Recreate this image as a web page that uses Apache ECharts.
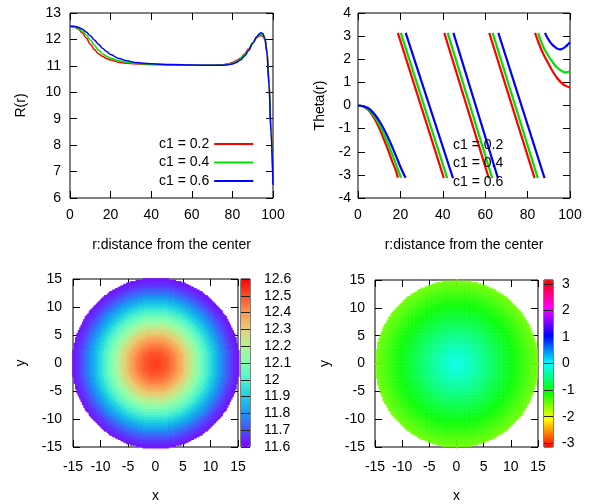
<!DOCTYPE html>
<html><head><meta charset="utf-8">
<script src="https://cdn.jsdelivr.net/npm/echarts@6/dist/echarts.min.js"></script>
<style>html,body{margin:0;padding:0;background:#fff}#c{width:596px;height:504px}</style>
</head><body><div id="c"></div>
<script>
// ---------- data ----------
const seriesNames = ['c1 = 0.2', 'c1 = 0.4', 'c1 = 0.6'];
const seriesColors = ['#ff0000', '#00e000', '#0000ff'];

// R(r) curves
const rNodes = [0,2,4,6,8,10,12,14,16,18,20,24,28,32,36,40,50,60,70,75,78,80,82,84,86,88,90,92,93,94,95,96,97,98,99,100];
const R_c02 = [12.5,12.48,12.4,12.25,12.05,11.82,11.62,11.46,11.36,11.28,11.22,11.14,11.1,11.08,11.06,11.05,11.03,11.02,11.02,11.04,11.08,11.13,11.2,11.3,11.45,11.65,11.87,12.05,12.12,12.15,12.12,12.0,11.6,10.5,8.7,6.7];
const R_c04 = [12.5,12.49,12.43,12.32,12.17,11.98,11.78,11.6,11.46,11.36,11.29,11.19,11.13,11.1,11.08,11.06,11.04,11.02,11.02,11.03,11.06,11.1,11.17,11.27,11.42,11.62,11.87,12.08,12.16,12.2,12.17,12.02,11.55,10.4,8.6,6.6];
const R_c06 = [12.5,12.5,12.46,12.39,12.28,12.14,11.98,11.82,11.67,11.54,11.43,11.28,11.19,11.13,11.1,11.08,11.05,11.03,11.02,11.02,11.04,11.07,11.13,11.22,11.37,11.58,11.85,12.1,12.2,12.25,12.22,12.05,11.5,10.3,8.5,6.5];

// Theta(r) curves: [r, theta] points, '-' breaks the phase-wrapped branches
const theta_c02 = [[0,0],[2,-0.03],[4,-0.13],[6,-0.32],[8,-0.6],[10,-0.98],[12,-1.42],[14,-1.88],[16,-2.38],[18,-2.85],[18.8,-3.12],[18.8,'-'],
  [18.8,3.14],[40.5,-3.14],[40.5,'-'],
  [40.7,3.14],[61.7,-3.14],[61.7,'-'],
  [61.9,3.14],[83.3,-3.14],[83.3,'-'],
  [83.5,3.14],[86,2.52],[88,2.12],[90,1.78],[92,1.45],[94,1.18],[96,0.98],[98,0.85],[100,0.78]];
const theta_c04 = [[0,0],[2,-0.02],[4,-0.1],[6,-0.26],[8,-0.5],[10,-0.82],[12,-1.2],[14,-1.62],[16,-2.08],[18,-2.56],[20,-3.05],[20.2,-3.12],[20.2,'-'],
  [20.2,3.14],[42.1,-3.14],[42.1,'-'],
  [42.3,3.14],[63.3,-3.14],[63.3,'-'],
  [63.5,3.14],[84.8,-3.14],[84.8,'-'],
  [85,3.14],[86,2.85],[88,2.42],[90,2.12],[92,1.85],[94,1.63],[96,1.5],[97,1.45],[98,1.43],[99,1.45],[100,1.5]];
const theta_c06 = [[0,0],[2,-0.02],[4,-0.08],[6,-0.2],[8,-0.4],[10,-0.66],[12,-0.98],[14,-1.35],[16,-1.76],[18,-2.2],[20,-2.65],[22,-3.05],[22.5,-3.12],[22.5,'-'],
  [22.5,3.14],[44.8,-3.14],[44.8,'-'],
  [45,3.14],[66,-3.14],[66,'-'],
  [66.2,3.14],[88,-3.14],[88,'-'],
  [88.2,3.14],[89,2.98],[90,2.83],[91,2.7],[92,2.6],[93,2.52],[94,2.46],[95,2.43],[96,2.44],[97,2.48],[98,2.55],[99,2.64],[100,2.73]];

// disc maps: value as read along the radius, every 0.5 unit from the center
const ringStep = 0.5;
const mapR = [12.52,12.52,12.51,12.5,12.49,12.47,12.45,12.43,12.4,12.37,12.34,12.3,12.27,12.23,12.19,12.15,12.11,12.07,12.03,11.99,11.95,11.91,11.87,11.83,11.8,11.76,11.73,11.7,11.67,11.65,11.63,11.62];
const mapTheta = [-0.1,-0.12,-0.15,-0.19,-0.23,-0.27,-0.31,-0.36,-0.4,-0.45,-0.5,-0.55,-0.6,-0.65,-0.7,-0.75,-0.8,-0.85,-0.9,-0.95,-1.0,-1.05,-1.1,-1.15,-1.2,-1.25,-1.3,-1.35,-1.4,-1.45,-1.5];
const discRadiusR = 15.2, discRadiusTheta = 15.0;

// tick labels
const cbThetaTicks = [-3,-2,-1,0,1,2,3];

// palettes
const rainbow = ['#8000ff','#4d4ffc','#1a96f3','#1acee3','#4df3ce','#80ffb4','#b3f396','#e6ce74','#ff964f','#ff4f28','#ff0000'];
const hsvCycle = ['#ff0000','#ff8000','#ffff00','#80ff00','#00ff00','#00ff80','#00ffff','#0080ff','#0000ff','#8000ff','#ff00ff','#ff0080','#ff0000'];

// ---------- build ----------
const font = "'Liberation Sans', Arial, Helvetica, sans-serif";
const txt = {color:'#000', fontSize:14, fontFamily:font};

function zipXY(xs, ys){ return xs.map((x,i)=>[x, ys[i]]); }
function discCells(profile, radius, step){
  const out = [];
  const n = Math.round(15/step);
  for (let i=-n;i<=n;i++) for (let j=-n;j<=n;j++){
    const x=i*step, y=j*step, r=Math.sqrt(x*x+y*y);
    if (r>radius) continue;
    const k = Math.min(profile.length-1, Math.round(r/ringStep));
    out.push([x,y,profile[k]]);
  }
  return out;
}
const cellStep = 0.25;
function makeRenderer(opacity){
  return function(params, api){
    const x=api.value(0), y=api.value(1), h=cellStep/2;
    const a=api.coord([x-h,y+h]), b=api.coord([x+h,y-h]);
    return {type:'rect', shape:{x:a[0], y:a[1], width:b[0]-a[0]+0.7, height:b[1]-a[1]+0.7},
      style:{fill:api.visual('color'), opacity:opacity}};
  };
}

function mainAxis(grid, min, max, interval, pos, margin, name, nameGap){
  return {type:'value', gridIndex:grid, min, max, interval, position:pos,
    axisLine:{show:false, onZero:false}, splitLine:{show:false},
    axisTick:{show:true, inside:true, length:7, lineStyle:{color:'#000', width:1}},
    axisLabel:Object.assign({show:true, margin, showMinLabel:true, showMaxLabel:true}, txt),
    name, nameLocation:'middle', nameGap, nameTextStyle:Object.assign({}, txt)};
}
function mirrorAxis(grid, min, max, interval, pos){
  return {type:'value', gridIndex:grid, min, max, interval, position:pos,
    axisLine:{show:false, onZero:false}, splitLine:{show:false}, axisLabel:{show:false},
    axisTick:{show:true, inside:true, length:7, lineStyle:{color:'#000', width:1}}};
}
const border = {show:true, borderColor:'#000', borderWidth:1, backgroundColor:'transparent'};

const option = {
  animation:false,
  backgroundColor:'#fff',
  textStyle:{fontFamily:font},
  grid:[
    Object.assign({left:70, top:13, width:203, height:185}, border),
    Object.assign({left:358, top:13, width:212, height:185}, border),
    Object.assign({left:73, top:279, width:165, height:168}, border),
    Object.assign({left:375, top:280, width:163, height:167}, border),
    Object.assign({left:241, top:279, width:9, height:168}, border),
    Object.assign({left:544, top:280, width:9, height:167}, border)
  ],
  xAxis:[
    mainAxis(0,0,100,20,'bottom',10,'r:distance from the center',40),
    mirrorAxis(0,0,100,20,'top'),
    mainAxis(1,0,100,20,'bottom',10,'r:distance from the center',40),
    mirrorAxis(1,0,100,20,'top'),
    mainAxis(2,-15,15,5,'bottom',13,'x',42),
    mirrorAxis(2,-15,15,5,'top'),
    mainAxis(3,-15,15,5,'bottom',13,'x',42),
    mirrorAxis(3,-15,15,5,'top'),
    {type:'value', gridIndex:4, min:0, max:1, show:false},
    {type:'value', gridIndex:5, min:0, max:1, show:false}
  ],
  yAxis:[
    mainAxis(0,6,13,1,'left',9,'R(r)',42),
    mirrorAxis(0,6,13,1,'right'),
    mainAxis(1,-4,4,1,'left',7,'Theta(r)',31),
    mirrorAxis(1,-4,4,1,'right'),
    mainAxis(2,-15,15,5,'left',11,'y',45),
    mirrorAxis(2,-15,15,5,'right'),
    mainAxis(3,-15,15,5,'left',10,'y',43),
    mirrorAxis(3,-15,15,5,'right'),
    {type:'value', gridIndex:4, min:11.6, max:12.6, interval:0.1, position:'right', z:10,
      axisLine:{show:false, onZero:false}, splitLine:{show:false},
      axisTick:{show:true, inside:true, length:9, lineStyle:{color:'#222', width:1}},
      axisLabel:Object.assign({margin:14, showMinLabel:true, showMaxLabel:true}, txt)},
    {type:'value', gridIndex:5, min:-Math.PI, max:Math.PI, position:'right', z:10,
      axisLine:{show:false, onZero:false}, splitLine:{show:false},
      axisTick:{show:true, inside:true, length:9, customValues:cbThetaTicks, lineStyle:{color:'#222', width:1}},
      axisLabel:Object.assign({margin:9, customValues:cbThetaTicks}, txt)}
  ],
  visualMap:[
    {type:'continuous', seriesIndex:6, dimension:2, min:11.6, max:12.6, inRange:{color:rainbow},
      calculable:false, hoverLink:false, left:241, top:279, itemWidth:9, itemHeight:168, padding:0, text:null, z:5},
    {type:'continuous', seriesIndex:7, dimension:2, min:-Math.PI, max:Math.PI, inRange:{color:hsvCycle},
      calculable:false, hoverLink:false, left:544, top:280, itemWidth:9, itemHeight:167, padding:0, text:null, z:5}
  ],
  legend:{data:seriesNames, orient:'vertical', left:159, top:137, align:'right', itemWidth:39, itemHeight:2,
    itemGap:4.5, icon:'rect', padding:0, selectedMode:false,
    textStyle:Object.assign({lineHeight:14}, txt)},
  graphic: seriesNames.map((s,i)=>({type:'text', z:100, style:{x:453, y:145+i*18.4, text:s, fill:'#000',
    font:"14px 'Liberation Sans', Arial, sans-serif", verticalAlign:'middle'}})),
  series:[
    ...[R_c02,R_c04,R_c06].map((d,i)=>({type:'line', name:seriesNames[i], xAxisIndex:0, yAxisIndex:0,
      data:zipXY(rNodes,d), showSymbol:false, symbol:'none', smooth:0.35, smoothMonotone:'x',
      lineStyle:{color:seriesColors[i], width:1.5}, itemStyle:{color:seriesColors[i]}})),
    ...[theta_c02,theta_c04,theta_c06].map((d,i)=>({type:'line', name:seriesNames[i], xAxisIndex:2, yAxisIndex:2,
      data:d, showSymbol:false, symbol:'none', smooth:0.3, connectNulls:false,
      lineStyle:{color:seriesColors[i], width:2.2}, itemStyle:{color:seriesColors[i]}})),
    {type:'custom', xAxisIndex:4, yAxisIndex:4, data:discCells(mapR, discRadiusR, cellStep), encode:{x:0,y:1},
      renderItem:makeRenderer(1), progressive:0, silent:true, clip:false},
    {type:'custom', xAxisIndex:6, yAxisIndex:6, data:discCells(mapTheta, discRadiusTheta, cellStep), encode:{x:0,y:1},
      renderItem:makeRenderer(0.78), progressive:0, silent:true, clip:false}
  ]
};
echarts.init(document.getElementById('c'), null, {renderer:'canvas'}).setOption(option);
</script></body></html>
